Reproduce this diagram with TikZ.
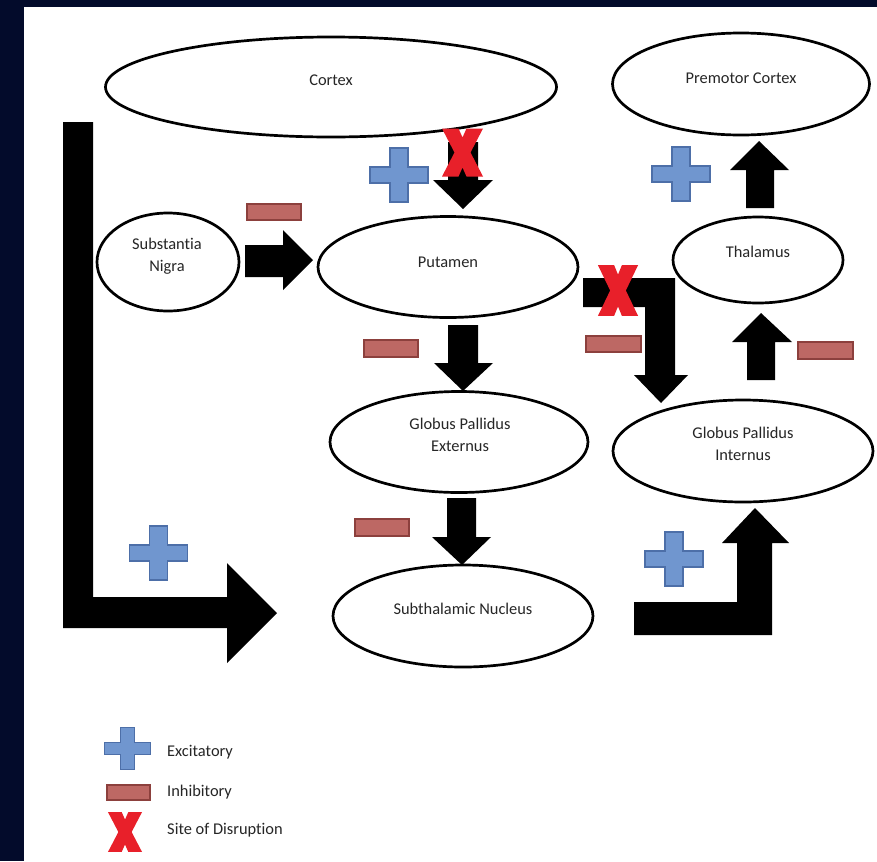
\documentclass[tikz,border=0pt]{standalone}
\usepackage{fontspec}
\setmainfont{Carlito}[Ligatures=NoCommon]
\usetikzlibrary{shapes.geometric}
\definecolor{navy}{HTML}{030B2B}
\definecolor{plusfill}{HTML}{7096CF}
\definecolor{plusline}{HTML}{4D6FA8}
\definecolor{minusfill}{HTML}{BD6864}
\definecolor{minusline}{HTML}{8C403D}
\definecolor{xred}{HTML}{E8202A}
\definecolor{txt}{HTML}{262626}
\begin{document}
\begin{tikzpicture}[x=0.03cm,y=-0.03cm,
  ell/.style={ellipse,draw=black,line width=2.3pt,fill=white,inner sep=0pt},
  lbl/.style={text=txt,font=\fontsize{14}{16}\selectfont,inner sep=0pt,align=center},
  blk/.style={fill=black},
  minusbox/.style={fill=minusfill,draw=minusline,line width=1pt},
  plus/.pic={\filldraw[fill=plusfill,draw=plusline,line width=1pt]
     (-9,-27) -- (9,-27) -- (9,-8) -- (29,-8) -- (29,8) -- (9,8) -- (9,27) -- (-9,27)
     -- (-9,8) -- (-29,8) -- (-29,-8) -- (-9,-8) -- cycle;},
  xmark/.pic={\fill[xred]
     (-20.5,-24) -- (-4,-24) -- (0,-15) -- (4,-24) -- (20.5,-24) -- (8,0) -- (20.5,24)
     -- (4,24) -- (0,15) -- (-4,24) -- (-20.5,24) -- (-8,0) -- cycle;}
]
\useasboundingbox (0,0) rectangle (877,861);
\fill[navy] (0,0) rectangle (877,861);
\fill[white] (24,7) rectangle (877,861);

% ellipses
\node[ell,minimum width=13.53cm,minimum height=3.0cm] (cortex) at (331,87) {};
\node[ell,minimum width=7.71cm,minimum height=3.06cm] (premotor) at (741,84) {};
\node[ell,minimum width=4.26cm,minimum height=2.94cm] (sn) at (168,262) {};
\node[ell,minimum width=7.8cm,minimum height=3.03cm] (putamen) at (448,267) {};
\node[ell,minimum width=5.1cm,minimum height=2.58cm] (thalamus) at (758,260) {};
\node[ell,minimum width=7.74cm,minimum height=3.03cm] (gpe) at (459,442) {};
\node[ell,minimum width=7.8cm,minimum height=3.06cm] (gpi) at (743,451) {};
\node[ell,minimum width=7.8cm,minimum height=3.06cm] (stn) at (463,616) {};

% labels
\node[lbl] (tcortex) at (331,80) {Cortex};
\node[lbl] (tpremotor) at (741,78) {Premotor Cortex};
\node[lbl] (tsn) at (167,256) {Substantia\\[3pt]Nigra};
\node[lbl] (tputamen) at (448,262) {Putamen};
\node[lbl] (tthalamus) at (758,252) {Thalamus};
\node[lbl] (tgpe) at (460,435) {Globus Pallidus\\[3pt]Externus};
\node[lbl] (tgpi) at (743,444) {Globus Pallidus\\[3pt]Internus};
\node[lbl] (tstn) at (463,609) {Subthalamic Nucleus};

% block arrows
\fill[blk] (448,142) -- (478,142) -- (478,180) -- (493,180) -- (463,209) -- (433,180) -- (448,180) -- cycle;
\fill[blk] (245,245) -- (283,245) -- (283,230) -- (313,260) -- (283,290) -- (283,277) -- (245,277) -- cycle;
\fill[blk] (448,325) -- (478,325) -- (478,363) -- (493,363) -- (463,391) -- (434,363) -- (448,363) -- cycle;
\fill[blk] (447,498) -- (476,498) -- (476,537) -- (491,537) -- (462,565) -- (432,537) -- (447,537) -- cycle;
\fill[blk] (583,278) -- (675,278) -- (675,375) -- (688,375) -- (661,403) -- (634,375) -- (645,375) -- (645,307) -- (583,307) -- cycle;
\fill[blk] (747,380) -- (775,380) -- (775,342) -- (792,342) -- (761,313) -- (732,342) -- (747,342) -- cycle;
\fill[blk] (746,208) -- (774,208) -- (774,170) -- (789,170) -- (759,141) -- (730,170) -- (746,170) -- cycle;
\fill[blk] (63,122) -- (93,122) -- (93,597) -- (227,597) -- (227,563) -- (277,613) -- (227,663) -- (227,628) -- (63,628) -- cycle;
\fill[blk] (634,602) -- (737,602) -- (737,543) -- (722,543) -- (755,508) -- (789,543) -- (772,543) -- (772,635) -- (634,635) -- cycle;

% excitatory signs
\pic at (399,175) {plus};
\pic at (681,174) {plus};
\pic at (158.5,553) {plus};
\pic at (674,559) {plus};
\pic[scale=0.78] at (127.5,748.5) {plus};

% inhibitory signs
\filldraw[minusbox] (247,204) rectangle (301,220);
\filldraw[minusbox] (364,340) rectangle (418,357);
\filldraw[minusbox] (586,336) rectangle (641,352);
\filldraw[minusbox] (798,342) rectangle (853,359);
\filldraw[minusbox] (355,519) rectangle (409,536);
\filldraw[minusbox] (107,785) rectangle (150,800);

% disruption sites
\pic at (462.5,152.5) {xmark};
\pic[yscale=1.06,xscale=0.98] at (618,290.5) {xmark};
\pic[scale=0.83] at (125,832) {xmark};

% legend
\node[lbl,anchor=west] (lexc) at (167,752) {Excitatory};
\node[lbl,anchor=west] (linh) at (167,792) {Inhibitory};
\node[lbl,anchor=west] (ldis) at (167,830) {Site of Disruption};
\end{tikzpicture}
\end{document}
